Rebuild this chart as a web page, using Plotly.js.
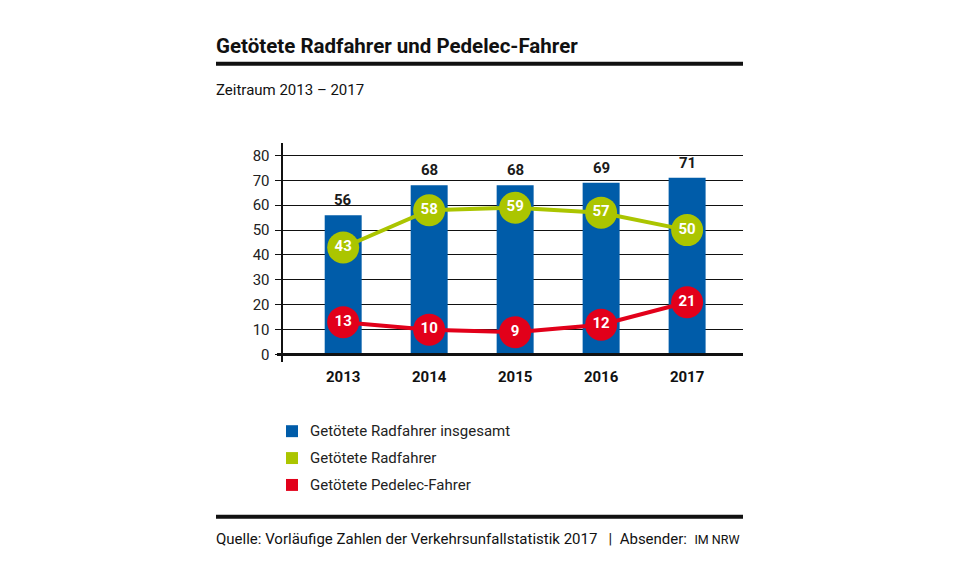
<!DOCTYPE html>
<html><head><meta charset="utf-8">
<script src="https://cdn.plot.ly/plotly-3.0.1.min.js"></script>
<style>html,body{margin:0;padding:0;background:#fff}#chart{width:961px;height:581px}</style>
</head><body><div id="chart"></div>
<script>
const years = ['2013','2014','2015','2016','2017'];
const totalRad = [56, 68, 68, 69, 71];
const radfahrer = [43, 58, 59, 57, 50];
const pedelec = [13, 10, 9, 12, 21];
const seriesNames = ['Getötete Radfahrer insgesamt', 'Getötete Radfahrer', 'Getötete Pedelec-Fahrer'];
const colors = ['#005ca9', '#abc500', '#e2001a'];
const titleText = 'Getötete Radfahrer und Pedelec-Fahrer';
const subtitleText = 'Zeitraum 2013 – 2017';
const sourceText = 'Quelle: Vorläufige Zahlen der Verkehrsunfallstatistik 2017&nbsp;&nbsp;&nbsp;|&nbsp;&nbsp;Absender:&nbsp;&nbsp;';
const senderText = 'IM NRW';

const F = 'Roboto, "Liberation Sans", sans-serif';
const L = 283, R = 743, T = 142.5, B = 362.5;
const W = R - L, H = B - T;
const px = x => (x - L) / W;
const py = y => (B - y) / H;

const traces = [
  {type:'bar', x: years, y: totalRad, name: seriesNames[0], marker:{color: colors[0]}, width: 0.43, showlegend:false, hoverinfo:'skip'},
  {type:'scatter', mode:'lines+markers+text', x: years, y: radfahrer, name: seriesNames[1],
   line:{color: colors[1], width:4}, marker:{color: colors[1], size:32},
   text: radfahrer.map(String), textposition:'middle center',
   textfont:{family:F, size:15, color:'#fff', weight:700}, showlegend:false, cliponaxis:false},
  {type:'scatter', mode:'lines+markers+text', x: years, y: pedelec, name: seriesNames[2],
   line:{color: colors[2], width:4}, marker:{color: colors[2], size:32},
   text: pedelec.map(String), textposition:'middle center',
   textfont:{family:F, size:15, color:'#fff', weight:700}, showlegend:false, cliponaxis:false}
];

const annotations = [];
const shapes = [];
years.forEach((yr, i) => {
  annotations.push({x: i, y: totalRad[i], xref:'x', yref:'y', text: '<b>' + totalRad[i] + '</b>', showarrow:false,
    yanchor:'bottom', yshift:4, font:{family:F, size:15, color:'#1a1a1a'}});
});
annotations.push({xref:'paper', yref:'paper', x: px(214), y: py(45), xanchor:'left', yanchor:'middle',
  text: '<b>' + titleText + '</b>', showarrow:false, font:{family:F, size:20.5, color:'#111'}});
annotations.push({xref:'paper', yref:'paper', x: px(214), y: py(89), xanchor:'left', yanchor:'middle',
  text: subtitleText, showarrow:false, font:{family:F, size:15, color:'#111'}});
annotations.push({xref:'paper', yref:'paper', x: px(214), y: py(540), xanchor:'left', yanchor:'middle',
  text: sourceText + '<span style="font-size:12.5px">' + senderText + '</span>', showarrow:false, font:{family:F, size:15, color:'#111'}});
const legY = [432, 459, 486];
seriesNames.forEach((n, i) => {
  annotations.push({xref:'paper', yref:'paper', x: px(308), y: py(legY[i]), xanchor:'left', yanchor:'middle',
    text: n, showarrow:false, font:{family:F, size:15, color:'#222'}});
  shapes.push({type:'rect', xref:'paper', yref:'paper', x0: px(286), x1: px(298), y0: py(legY[i]-6), y1: py(legY[i]+6),
    fillcolor: colors[i], line:{width:0}});
});
shapes.push({type:'line', xref:'paper', yref:'paper', x0: px(216), x1: px(743), y0: py(63), y1: py(63), line:{color:'#111', width:4}});
shapes.push({type:'line', xref:'paper', yref:'paper', x0: px(216), x1: px(743), y0: py(518), y1: py(518), line:{color:'#111', width:4}});
shapes.push({type:'line', xref:'paper', yref:'y', x0: px(277), x1: 1, y0: 0, y1: 0, line:{color:'#111', width:3}, layer:'above'});

const layout = {
  width: 961, height: 581,
  margin: {l: L, r: 961 - R, t: T, b: 581 - B, pad: 0},
  paper_bgcolor:'#fff', plot_bgcolor:'#fff',
  font:{family:F, size:15, color:'#222'},
  showlegend:false,
  xaxis:{type:'category', range:[-0.7, 4.65], showgrid:false, zeroline:false, showline:false,
    ticks:'', tickfont:{family:F, size:15, color:'#111', weight:700}, ticklabelstandoff:4, fixedrange:true},
  yaxis:{range:[-3, 85], tickvals:[0,10,20,30,40,50,60,70,80], showgrid:true, gridcolor:'#111', gridwidth:1,
    zeroline:false, showline:true, linecolor:'#111', linewidth:2.5, ticks:'outside', ticklen:6, tickcolor:'#111', tickwidth:1,
    tickfont:{family:F, size:15, color:'#222'}, ticklabelstandoff:2, fixedrange:true},
  annotations, shapes
};
Plotly.newPlot('chart', traces, layout, {displayModeBar:false, staticPlot:true});
</script></body></html>
